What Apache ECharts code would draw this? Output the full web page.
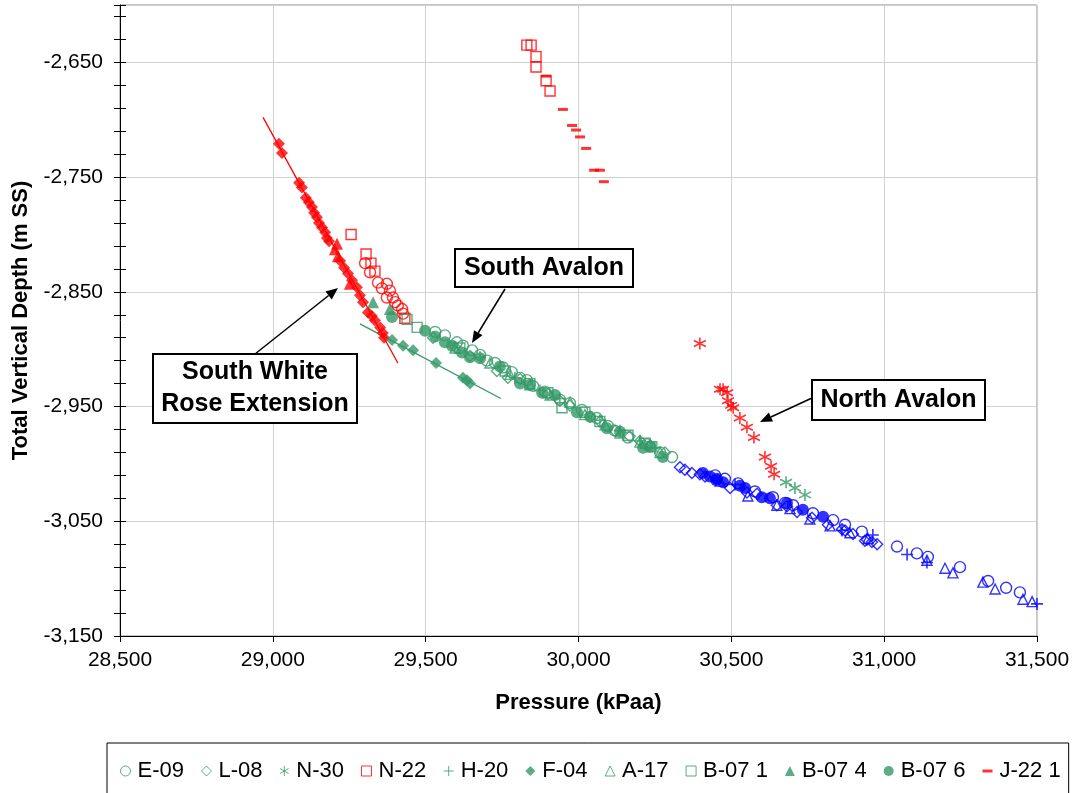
<!DOCTYPE html>
<html><head><meta charset="utf-8">
<script src="https://cdn.jsdelivr.net/npm/echarts@6/dist/echarts.min.js"></script>
<style>html,body{margin:0;padding:0;background:#fff}#c{width:1076px;height:793px}</style>
</head><body><div id="c"></div>
<script>
const RED = '#FF0000', GREEN = '#339966', BLUE = '#0000FF';
const FONT = '"Liberation Sans", Arial, sans-serif';

// ---- axis ticks ----
const X_MIN = 28500, X_MAX = 31500, X_STEP = 500;
const Y_MIN = -3150, Y_MAX = -2600;
const yTickLabels = [-3150, -3050, -2950, -2850, -2750, -2650];

// ---- data: [pressure kPaa, TVD m SS] ----
const E09_red = [[29302,-2825],[29318,-2833],[29344,-2842],[29357,-2847],[29373,-2843],[29383,-2849],[29373,-2855],[29393,-2855],[29400,-2859],[29409,-2862],[29423,-2865],[29426,-2869]];
const E09_green = [[29531,-2885],[29563,-2888],[29602,-2894],[29622,-2897],[29652,-2901],[29678,-2905],[29701,-2910],[29727,-2912],[29753,-2916],[29782,-2920],[29809,-2925],[29831,-2927],[29851,-2932],[29890,-2937],[29939,-2944],[29972,-2947],[30011,-2953],[30060,-2960],[30096,-2967],[30119,-2971],[30162,-2977],[30224,-2983],[30267,-2990],[30306,-2994]];
const E09_blue = [[30447,-3010],[30479,-3013],[30522,-3017],[30577,-3024],[30636,-3029],[30676,-3034],[30702,-3036],[30767,-3043],[30833,-3049],[30872,-3053],[30927,-3059],[31042,-3072],[31107,-3078],[31143,-3081],[31248,-3090],[31340,-3102],[31399,-3108],[31444,-3112]];

const L08_green = [[29524,-2890],[29596,-2898],[29645,-2906],[29733,-2919],[29769,-2925],[29809,-2926],[29900,-2939],[29939,-2945],[29972,-2949],[30038,-2959],[30070,-2963],[30119,-2971],[30168,-2976],[30201,-2980],[30234,-2984],[30283,-2990]];
const L08_blue = [[30332,-3003],[30348,-3005],[30371,-3008],[30397,-3009],[30414,-3011],[30496,-3021],[30551,-3025],[30584,-3026],[30649,-3036],[30682,-3037],[30715,-3042],[30764,-3047],[30816,-3053],[30862,-3057],[30872,-3058],[30898,-3061],[30937,-3067],[30944,-3066],[30960,-3068],[30977,-3070]];

const N30_red = [[30397,-2895],[30463,-2935],[30473,-2935],[30486,-2938],[30489,-2945],[30499,-2949],[30506,-2951],[30528,-2960],[30551,-2968],[30574,-2977],[30610,-2994],[30630,-3002],[30640,-3009]];
const N30_green = [[30679,-3016],[30708,-3021],[30741,-3027]];

const N22_red = [[29831,-2635],[29845,-2635],[29861,-2645],[29861,-2654],[29894,-2666],[29907,-2675],[29256,-2800],[29305,-2817],[29321,-2825],[29334,-2832],[29432,-2873]];

const H20_green = [[29678,-2907],[29792,-2925],[29874,-2936],[29939,-2943],[30070,-2962],[30136,-2971],[30201,-2980],[30250,-2986]];
const H20_blue = [[30512,-3018],[30862,-3058],[30963,-3062],[31075,-3079],[31140,-3086],[31500,-3122]];

const F04_red = [[29020,-2721],[29030,-2729],[29086,-2755],[29095,-2759],[29108,-2768],[29118,-2772],[29128,-2776],[29135,-2781],[29144,-2785],[29151,-2790],[29161,-2794],[29171,-2798],[29177,-2803],[29184,-2806],[29220,-2823],[29233,-2829],[29246,-2834],[29259,-2840],[29275,-2846],[29285,-2853],[29295,-2859],[29311,-2868],[29324,-2871],[29334,-2875],[29351,-2881],[29360,-2886],[29364,-2890]];
const F04_green = [[29390,-2892],[29426,-2897],[29459,-2901],[29534,-2912],[29622,-2925],[29635,-2927],[29645,-2930]];

const A17_green = [[29596,-2899],[29710,-2912],[29776,-2922],[29841,-2931],[29907,-2940],[29972,-2946],[30021,-2957],[30087,-2966],[30136,-2973],[30201,-2981],[30267,-2990]];
const A17_blue = [[30463,-3015],[30554,-3028],[30649,-3036],[30692,-3039],[30757,-3048],[30823,-3054],[30888,-3060],[30947,-3065],[31140,-3084],[31199,-3091],[31225,-3095],[31323,-3103],[31363,-3109],[31454,-3118],[31484,-3120]];

const B071_green = [[29439,-2874],[29472,-2881],[29612,-2899],[29760,-2919],[29841,-2930],[29900,-2938],[29946,-2951],[30021,-2955],[30070,-2963],[30162,-2975],[30218,-2982],[30240,-2985]];

const B074_red = [[29210,-2808],[29203,-2813],[29213,-2819],[29252,-2843]];
const B074_green = [[29328,-2859],[29383,-2865]];

const B076_green = [[29390,-2872],[29498,-2884],[29531,-2889],[29563,-2894],[29586,-2897],[29619,-2903],[29645,-2907],[29678,-2908],[29743,-2915],[29809,-2930],[29841,-2931],[29881,-2938],[29923,-2940],[29995,-2955],[30038,-2959],[30093,-2969],[30136,-2972],[30211,-2986],[30234,-2985],[30276,-2994]];
const B076_blue = [[30407,-3008],[30430,-3011],[30450,-3014],[30453,-3013],[30473,-3016],[30528,-3019],[30545,-3021],[30600,-3029],[30626,-3030],[30682,-3034],[30734,-3040],[30800,-3046]];

const J221_red = [[29894,-2662],[29949,-2691],[29979,-2705],[29992,-2709],[30005,-2715],[30025,-2725],[30051,-2744],[30070,-2744],[30083,-2754]];

// trend lines
const SWRE_TREND = [[28968,-2698],[29409,-2912]];
const F04_TREND = [[29285,-2878],[29746,-2943]];

// ---- symbols ----
const SYM_AST = 'path://M5,0L5,10M0.7,2.5L9.3,7.5M0.7,7.5L9.3,2.5';
const SYM_PLUS = 'path://M5,0L5,10M0,5L10,5';
const SYM_DASH = 'path://M0,0L10,0L10,3L0,3Z';

const defs = [
  {name:'E-09', symbol:'circle', size:11, filled:false, color:GREEN, groups:[[E09_red,RED],[E09_green,GREEN],[E09_blue,BLUE]]},
  {name:'L-08', symbol:'diamond', size:11, filled:false, color:GREEN, groups:[[L08_green,GREEN],[L08_blue,BLUE]]},
  {name:'N-30', symbol:SYM_AST, size:12, filled:false, color:GREEN, bw:1.6, groups:[[N30_red,RED],[N30_green,GREEN]]},
  {name:'N-22', symbol:'rect', size:10, filled:false, color:RED, groups:[[N22_red,RED]]},
  {name:'H-20', symbol:SYM_PLUS, size:12, filled:false, color:GREEN, bw:1.6, groups:[[H20_green,GREEN],[H20_blue,BLUE]]},
  {name:'F-04', symbol:'diamond', size:12, filled:true, color:GREEN, groups:[[F04_red,RED],[F04_green,GREEN]]},
  {name:'A-17', symbol:'triangle', size:10, filled:false, color:GREEN, groups:[[A17_green,GREEN],[A17_blue,BLUE]]},
  {name:'B-07 1', symbol:'rect', size:10, filled:false, color:GREEN, groups:[[B071_green,GREEN]]},
  {name:'B-07 4', symbol:'triangle', size:12, filled:true, color:GREEN, groups:[[B074_red,RED],[B074_green,GREEN]]},
  {name:'B-07 6', symbol:'circle', size:12, filled:true, color:GREEN, groups:[[B076_green,GREEN],[B076_blue,BLUE]]},
  {name:'J-22 1', symbol:'rect', size:[10,3], filled:true, color:RED, legendIcon:SYM_DASH, groups:[[J221_red,RED]]}
];

function styleFor(c, filled, bw) {
  return filled ? {color:c, borderWidth:0}
                : {color:'rgba(0,0,0,0)', borderColor:c, borderWidth:bw || 1.4};
}

const series = [];
series.push({type:'line', name:'trend-swre', data:SWRE_TREND, symbol:'none', silent:true,
  lineStyle:{color:RED, width:1.3}, z:1});
series.push({type:'line', name:'trend-f04', data:F04_TREND, symbol:'none', silent:true,
  lineStyle:{color:GREEN, width:1.3}, z:1});
defs.forEach(d => {
  const data = [];
  d.groups.forEach(([arr, c]) => arr.forEach(p => data.push({value:p, itemStyle:styleFor(c, d.filled, d.bw)})));
  series.push({type:'scatter', name:d.name, symbol:d.symbol, symbolSize:d.size,
    itemStyle:styleFor(d.color, d.filled, d.bw), data, z:2});
});

const legendData = defs.map(d => ({
  name:d.name,
  icon:d.legendIcon || d.symbol,
  itemStyle:d.filled ? {color:d.color, borderWidth:0} : {color:'rgba(0,0,0,0)', borderColor:d.color, borderWidth:1}
}));

function fmt(v) {
  const s = String(Math.abs(Math.round(v))).replace(/\B(?=(\d{3})+(?!\d))/g, ',');
  return (v < 0 ? '-' : '') + s;
}

// ---- annotations (pixel layout) ----
function arrow(x1, y1, x2, y2) {
  const ang = Math.atan2(y2 - y1, x2 - x1), L = 12, W = 5;
  const bx = x2 - L * Math.cos(ang), by = y2 - L * Math.sin(ang);
  const px = -Math.sin(ang) * W, py = Math.cos(ang) * W;
  return [
    {type:'line', shape:{x1, y1, x2:bx, y2:by}, style:{stroke:'#000', lineWidth:1.5}, z:10},
    {type:'polygon', shape:{points:[[x2,y2],[bx+px,by+py],[bx-px,by-py]]}, style:{fill:'#000'}, z:10}
  ];
}
function box(x, y, w, h, lines) {
  const els = [{type:'rect', shape:{x, y, width:w, height:h}, style:{fill:'#fff', stroke:'#000', lineWidth:2}, z:11}];
  const lh = 32, cy = y + h / 2 - (lines.length - 1) * lh / 2;
  lines.forEach((t, i) => els.push({type:'text', x:x + w / 2, y:cy + i * lh, z:12,
    style:{text:t, fill:'#000', font:'bold 25px ' + FONT, align:'center', verticalAlign:'middle',
      textAlign:'center', textVerticalAlign:'middle'}}));
  return els;
}
const graphics = [].concat(
  arrow(505, 289, 472, 343),
  arrow(255, 354, 338, 288),
  arrow(812, 398, 760, 422),
  box(455, 249, 178, 38, ['South Avalon']),
  box(153, 354, 204, 69, ['South White', 'Rose Extension']),
  box(812, 380, 173, 40, ['North Avalon'])
);

const chart = echarts.init(document.getElementById('c'), null, {renderer:'canvas'});
chart.setOption({
  animation:false,
  backgroundColor:'#fff',
  textStyle:{fontFamily:FONT},
  grid:{left:120, top:5, right:39, bottom:157, show:true, borderColor:'#8c8c8c', borderWidth:1, containLabel:false},
  xAxis:{type:'value', min:X_MIN, max:X_MAX, interval:X_STEP,
    axisLine:{onZero:false, lineStyle:{color:'#000', width:1}},
    axisTick:{length:6, lineStyle:{color:'#000'}},
    axisLabel:{formatter:fmt, fontSize:21, color:'#000', fontFamily:FONT, margin:14},
    splitLine:{show:true, lineStyle:{color:'#d0d0d0', width:1}},
    name:'Pressure (kPaa)', nameLocation:'middle', nameGap:56,
    nameTextStyle:{fontWeight:'bold', fontSize:22, color:'#000', fontFamily:FONT}},
  yAxis:[
    {type:'value', min:Y_MIN, max:Y_MAX, interval:50, position:'left',
     axisLine:{show:true, onZero:false, lineStyle:{color:'#000', width:1}},
     axisTick:{show:false}, splitLine:{show:false},
     axisLabel:{formatter:v => yTickLabels.includes(Math.round(v)) ? fmt(v) : '', fontSize:21, color:'#000', fontFamily:FONT, margin:17},
     name:'Total Vertical Depth (m SS)', nameLocation:'middle', nameGap:88,
     nameTextStyle:{fontWeight:'bold', fontSize:22, color:'#000', fontFamily:FONT}},
    {type:'value', min:Y_MIN - 50, max:Y_MAX - 50, interval:100, position:'left',
     axisLine:{show:false}, axisTick:{show:false}, axisLabel:{show:false},
     splitLine:{show:true, lineStyle:{color:'#d0d0d0', width:1}}},
    {type:'value', min:Y_MIN - 10, max:Y_MAX - 10, interval:20, position:'left', offset:-6,
     axisLine:{show:false}, axisTick:{show:true, length:12, lineStyle:{color:'#000'}},
     axisLabel:{show:false}, splitLine:{show:false}}
  ],
  legend:{data:legendData, left:107, top:743, width:960, orient:'horizontal',
    padding:[17, 8, 40, 13], itemGap:17, itemWidth:10, itemHeight:10,
    borderColor:'#000', borderWidth:1, backgroundColor:'#fff',
    textStyle:{fontSize:22, color:'#000', fontFamily:FONT, padding:[0,0,0,2]}},
  graphic:graphics,
  series
});
</script></body></html>
